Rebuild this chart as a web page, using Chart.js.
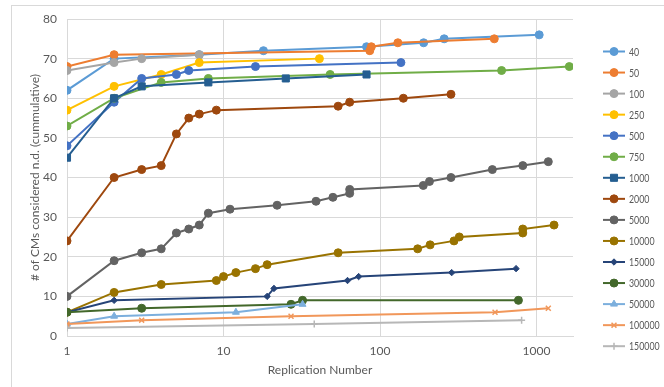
<!DOCTYPE html>
<html>
<head>
<meta charset="utf-8">
<script src="https://cdn.jsdelivr.net/npm/chart.js@4.4.1/dist/chart.umd.min.js"></script>
<style>
  html, body { margin: 0; padding: 0; background: #fff; }
  #wrap { position: relative; width: 664px; height: 387px; overflow: hidden; }
  #frame { position: absolute; left: 11px; top: 5px; width: 700px; height: 400px; border: 1px solid #d9d9d9; }
  #chart { position: absolute; left: 0; top: 0; }
</style>
</head>
<body>
<div id="wrap">
  <div id="frame"></div>
  <canvas id="chart" width="664" height="387"></canvas>
</div>
<script>
// replication number (x) and cumulative count (y) per series
const labels = ['40', '50', '100', '250', '500', '750', '1000', '2000', '5000', '10000', '15000', '30000', '50000', '100000', '150000'];

const rep40 = [1, 2, 7, 18, 82, 190, 257, 1040];
const cms40 = [62, 70, 71, 72, 73, 74, 75, 76];
const rep50 = [1, 2, 86, 88, 130, 537];
const cms50 = [68, 71, 72, 73, 74, 75];
const rep100 = [1, 2, 3, 7];
const cms100 = [67, 69, 70, 71];
const rep250 = [1, 2, 4, 7, 41];
const cms250 = [57, 63, 66, 69, 70];
const rep500 = [1, 2, 3, 5, 6, 16, 136];
const cms500 = [48, 59, 65, 66, 67, 68, 69];
const rep750 = [1, 2, 4, 8, 48, 598, 1620];
const cms750 = [53, 60, 64, 65, 66, 67, 68];
const rep1000 = [1, 2, 3, 8, 25, 82];
const cms1000 = [45, 60, 63, 64, 65, 66];
const rep2000 = [1, 2, 3, 4, 5, 6, 7, 9, 54, 64, 141, 284];
const cms2000 = [24, 40, 42, 43, 51, 55, 56, 57, 58, 59, 60, 61];
const rep5000 = [1, 2, 3, 4, 5, 6, 7, 8, 11, 22, 39, 50, 64, 64, 189, 207, 284, 522, 817, 1189];
const cms5000 = [10, 19, 21, 22, 26, 27, 28, 31, 32, 33, 34, 35, 36, 37, 38, 39, 40, 42, 43, 44];
const rep10000 = [1, 2, 4, 9, 10, 12, 16, 19, 54, 174, 209, 297, 321, 817, 817, 1294];
const cms10000 = [6, 11, 13, 14, 15, 16, 17, 18, 21, 22, 23, 24, 25, 26, 27, 28];
const rep15000 = [1, 2, 19, 21, 62, 73, 287, 740];
const cms15000 = [6, 9, 10, 12, 14, 15, 16, 17];
const rep30000 = [1, 3, 27, 32, 766];
const cms30000 = [6, 7, 8, 9, 9];
const rep50000 = [1, 2, 12, 32];
const cms50000 = [3, 5, 6, 8];
const rep100000 = [1, 3, 27, 543, 1189];
const cms100000 = [3, 4, 5, 6, 7];
const rep150000 = [1, 38, 803];
const cms150000 = [2, 3, 4];

const xTicks = [1, 10, 100, 1000];
const yTicks = [0, 10, 20, 30, 40, 50, 60, 70, 80];

const reps = [rep40, rep50, rep100, rep250, rep500, rep750, rep1000, rep2000, rep5000, rep10000, rep15000, rep30000, rep50000, rep100000, rep150000];
const counts = [cms40, cms50, cms100, cms250, cms500, cms750, cms1000, cms2000, cms5000, cms10000, cms15000, cms30000, cms50000, cms100000, cms150000];

const colors = ['#5B9BD5', '#ED7D31', '#A5A5A5', '#FFC000', '#4472C4', '#70AD47', '#255E91', '#9E480E',
                '#636363', '#997300', '#264478', '#43682B', '#7CAFDD', '#F1975A', '#B7B7B7'];
const styles = ['circle', 'circle', 'circle', 'circle', 'circle', 'circle', 'rect', 'circle',
                'circle', 'circle', 'rectRot', 'circle', 'triangle', 'crossRot', 'cross'];
const radii = [4, 4, 4, 4, 4, 4, 5, 4, 4, 4, 3.2, 4, 4, 3.5, 3.5];

const font = "Lato, 'Liberation Sans', sans-serif";
const textColor = '#595959';
const gridColor = '#d9d9d9';

const datasets = labels.map((name, i) => ({
    label: name,
    data: reps[i].map((x, j) => ({ x: x, y: counts[i][j] })),
    borderColor: colors[i],
    backgroundColor: colors[i],
    borderWidth: 2,
    pointStyle: styles[i],
    pointRadius: radii[i],
    pointBorderWidth: styles[i].startsWith('cross') ? 1.5 : 1,
    pointHoverRadius: radii[i],
    tension: 0,
    order: -i // later series on top, like the original
}));

// legend drawn by hand: line with the marker on it
const lineLegend = {
    id: 'lineLegend',
    afterDraw(chart) {
        const ctx = chart.ctx;
        ctx.save();
        chart.data.datasets.forEach((ds, i) => {
            const y = 51.5 + i * 21.05;
            ctx.strokeStyle = ds.borderColor;
            ctx.fillStyle = ds.backgroundColor;
            ctx.lineWidth = 2;
            ctx.beginPath();
            ctx.moveTo(603, y);
            ctx.lineTo(625, y);
            ctx.stroke();
            ctx.lineWidth = ds.pointBorderWidth;
            Chart.helpers.drawPoint(ctx, { pointStyle: ds.pointStyle, radius: ds.pointRadius, borderWidth: ds.pointBorderWidth, rotation: 0 }, 614, y);
            ctx.fillStyle = textColor;
            ctx.font = '11px ' + font;
            ctx.textBaseline = 'middle';
            ctx.textAlign = 'left';
            // Calibri digits are narrow, squeeze a little
            ctx.fillText(ds.label, 629, y + 0.5, ds.label.length * 5.1);
        });
        ctx.restore();
    }
};

new Chart(document.getElementById('chart'), {
    type: 'line',
    data: { datasets: datasets },
    plugins: [lineLegend],
    options: {
        responsive: false,
        animation: false,
        layout: { padding: { top: 19, right: 91, bottom: 0, left: 0 } },
        plugins: {
            legend: { display: false },
            tooltip: { enabled: false }
        },
        scales: {
            x: {
                type: 'logarithmic',
                min: 1,
                max: 1710,
                afterBuildTicks: s => { s.ticks = xTicks.map(v => ({ value: v })); },
                afterFit: s => { s.height = 51; },
                ticks: {
                    color: textColor,
                    font: { family: font, size: 12 },
                    padding: 8,
                    autoSkip: false,
                    maxRotation: 0,
                    callback: v => String(v)
                },
                grid: { color: gridColor, drawTicks: false },
                border: { color: gridColor },
                title: {
                    display: true,
                    text: 'Replication Number',
                    color: textColor,
                    font: { family: font, size: 12 },
                    padding: { top: 0, bottom: 10 }
                }
            },
            y: {
                min: 0,
                max: 80,
                afterBuildTicks: s => { s.ticks = yTicks.map(v => ({ value: v })); },
                afterFit: s => { s.width = 67; },
                ticks: {
                    color: textColor,
                    font: { family: font, size: 12 },
                    padding: 10
                },
                grid: { color: gridColor, drawTicks: false },
                border: { color: gridColor },
                title: {
                    display: true,
                    text: '# of CMs considered n.d. (cummulative)',
                    color: textColor,
                    font: { family: font, size: 12 },
                    padding: { top: 28, bottom: 0 }
                }
            }
        }
    }
});
</script>
</body>
</html>
